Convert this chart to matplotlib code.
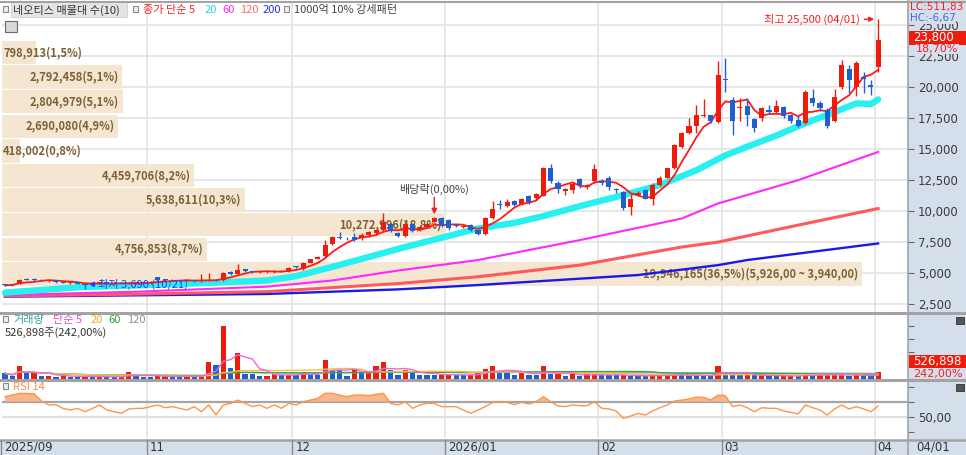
import numpy as np
import pandas as pd
import matplotlib
matplotlib.use("Agg")
import matplotlib.pyplot as plt
from matplotlib.patches import Rectangle
from matplotlib.lines import Line2D
from matplotlib.ticker import FuncFormatter
import matplotlib.transforms as mtrans

plt.rcParams['font.family'] = ['Noto Sans CJK KR', 'DejaVu Sans']
plt.rcParams['axes.unicode_minus'] = False
NUMFONT = ['DejaVu Sans']

# ---------------- data ----------------
opens = [4100, 4000, 4100, 4500, 4480, 4450, 4350, 4400, 4280, 4200,
         4250, 4100, 4000, 4150, 4250, 4150, 4200, 4120, 4180, 4250,
         4200, 4650, 4500, 4400, 4420, 4380, 4420, 4350, 4400, 4450,
         4400, 5050, 4950, 5300, 5100, 5050, 5080, 5080, 5100, 5150,
         5550, 5300, 5850, 6150, 6350, 7350, 7950, 7850, 7900, 7800,
         8050, 8200, 8450, 8950, 8200, 8000, 8950, 8500, 8700, 9150,
         9450, 9300, 8900, 8700, 8900, 8450, 8150, 9450, 10550, 10400,
         10800, 10600, 11200, 11050, 11250, 13500, 12300, 11600, 11700, 12600,
         11950, 12400, 12400, 12700, 11800, 11550, 10350, 11300, 11700, 11000,
         12100, 12700, 13450, 15200, 16300, 16900, 17700, 17750, 17200, 20700,
         19000, 18300, 18450, 17400, 17500, 18200, 18000, 18400, 17750, 17350,
         17100, 19150, 18700, 18200, 17300, 20000, 21450, 20000, 20800, 20150,
         21600]
highs = [4150, 4120, 4500, 4600, 4580, 4500, 4450, 4420, 4300, 4300,
         4280, 4150, 4200, 4300, 4300, 4250, 4250, 4250, 4300, 4300,
         4350, 4700, 4550, 4500, 4450, 4500, 4450, 4900, 5000, 4500,
         5100, 5150, 5700, 5350, 5150, 5150, 5200, 5250, 5250, 5450,
         5600, 5900, 6150, 6400, 7650, 8000, 8300, 7950, 8200, 8250,
         8400, 8550, 9850, 9050, 8300, 9100, 9050, 8900, 9050, 9500,
         9500, 9350, 9000, 8900, 9000, 8500, 9500, 10800, 10900, 11000,
         10900, 11050, 11300, 11500, 13550, 13800, 12400, 11900, 12300, 12700,
         12200, 13800, 12600, 12800, 11900, 11600, 11400, 11600, 11750, 12300,
         12800, 13500, 15400, 16400, 17500, 18550, 19050, 17800, 22150, 22400,
         19200, 19100, 19100, 17500, 18400, 18600, 19000, 18500, 17850, 17800,
         19750, 19900, 18900, 18300, 19900, 22200, 21800, 22100, 21200, 20600,
         25500]
lows = [3950, 3950, 4080, 4400, 4380, 4350, 4300, 4200, 4180, 4150,
        4100, 3690, 3950, 4100, 4100, 4100, 4080, 4100, 4150, 4150,
        4150, 4400, 4350, 4350, 4300, 4350, 4300, 4300, 4350, 4350,
        4350, 4850, 4900, 5100, 5000, 5000, 5000, 5000, 5050, 5100,
        5400, 5250, 5800, 6100, 6300, 7300, 7750, 7700, 7600, 7650,
        7950, 8100, 8400, 8300, 7900, 7950, 8300, 8400, 8600, 9100,
        8700, 8500, 8700, 8650, 8400, 8050, 8100, 9400, 10200, 10350,
        10400, 10500, 10600, 10900, 11200, 12300, 11500, 11300, 11500, 11900,
        11800, 12250, 12100, 11700, 11500, 10100, 9670, 11200, 10950, 10500,
        12000, 12650, 13400, 15100, 16200, 16300, 17600, 17100, 17100, 19600,
        16150, 17300, 16900, 16400, 17300, 17900, 17900, 17500, 17100, 16800,
        17000, 18500, 18100, 16750, 17200, 19900, 19500, 19300, 19550, 19350,
        21200]
closes = [4000, 4080, 4450, 4450, 4450, 4400, 4400, 4250, 4230, 4250,
          4150, 4000, 4150, 4250, 4150, 4180, 4120, 4180, 4250, 4200,
          4300, 4450, 4400, 4420, 4380, 4420, 4350, 4450, 4450, 4400,
          5000, 4950, 5250, 5200, 5080, 5100, 5100, 5120, 5150, 5400,
          5450, 5850, 6100, 6300, 7300, 7950, 7850, 7800, 7700, 8100,
          8300, 8450, 9100, 8400, 8000, 9000, 8400, 8750, 8950, 9450,
          8800, 8650, 8800, 8800, 8450, 8150, 9450, 10200, 10500, 10750,
          10500, 10950, 10700, 11350, 13500, 12400, 11750, 11750, 12200, 12100,
          12100, 13400, 12300, 11950, 11700, 10250, 11000, 11450, 11000, 12100,
          12700, 13450, 15300, 16300, 16900, 17750, 17750, 17250, 21000, 20550,
          17300, 18400, 17800, 16700, 18300, 18000, 18500, 17650, 17250, 16900,
          19600, 18700, 18300, 16850, 19250, 21800, 20550, 22000, 20650, 20050,
          23800]
volumes = [430000, 200000, 980000, 430000, 450000, 250000, 260000, 170000, 250000, 180000,
           170000, 200000, 150000, 180000, 160000, 150000, 180000, 550000, 230000, 180000,
           150000, 200000, 270000, 180000, 160000, 270000, 150000, 160000, 1260000, 1060000,
           4010000, 820000, 1960000, 400000, 350000, 250000, 260000, 380000, 300000, 310000,
           280000, 530000, 320000, 300000, 1400000, 700000, 690000, 250000, 700000, 500000,
           510000, 950000, 1280000, 700000, 330000, 700000, 470000, 330000, 320000, 310000,
           320000, 330000, 300000, 290000, 300000, 430000, 780000, 1000000, 530000, 520000,
           300000, 580000, 300000, 290000, 950000, 350000, 360000, 250000, 350000, 250000,
           350000, 360000, 300000, 290000, 280000, 300000, 220000, 210000, 200000, 300000,
           310000, 320000, 330000, 300000, 290000, 280000, 220000, 210000, 1000000, 530000,
           300000, 290000, 300000, 290000, 300000, 220000, 210000, 220000, 230000, 200000,
           430000, 300000, 310000, 320000, 330000, 340000, 230000, 300000, 220000, 217726,
           526898]
rsi14 = [76.7, 79, 81, 81, 80.5, 71, 65.6, 66, 61, 59,
         61, 56.7, 61, 65.6, 59, 56.7, 54.5, 60.3, 61, 61.2,
         63.4, 65.6, 62, 63.4, 61.2, 58.9, 63.4, 56.7, 65.6, 52.2,
         65.6, 67.8, 72.2, 67.8, 63.4, 65.6, 61.2, 65.6, 61.2, 67.8,
         65.6, 70, 72.2, 74.5, 81.2, 81.2, 78.9, 76.7, 78.9, 78.9,
         78.2, 79.8, 81.2, 67.8, 65.6, 70, 61.2, 65.6, 67.8, 67.8,
         63.4, 63.4, 63.4, 58.9, 54.5, 58.9, 63.4, 69, 69.2, 69.2,
         66, 69.2, 67, 70, 76.7, 70, 64.3, 63.4, 65.6, 64.7,
         64.7, 70, 61.2, 60.3, 57.6, 47.9, 50.9, 54.5, 52.2, 57.6,
         62, 65.6, 70.9, 72.2, 73.6, 76.2, 75.8, 72.2, 78.9, 78,
         63.4, 65.6, 62, 56.7, 62, 61.2, 61.2, 57.6, 55.8, 53.6,
         65.6, 62, 58.9, 52.2, 60.3, 65.6, 60.3, 63.4, 60.3, 56.7,
         64.3]

# moving averages (day index -> value)
ma20_at = [0, 10, 18, 28, 36, 40, 45, 50, 55, 60, 65, 70, 74, 79, 85, 90, 95, 99, 102, 106, 110, 114, 117, 119, 120]
ma20_vals = [3420, 3850, 4000, 4200, 4400, 4750, 5500, 6300, 7100, 7850, 8600, 9050, 9600, 10400, 11300,
             12100, 13300, 14500, 15200, 16100, 17100, 18000, 18700, 18650, 19020]
ma60_at = [0, 18, 36, 45, 54, 65, 79, 93, 98, 109, 120]
ma60_vals = [3230, 3490, 3900, 4400, 5200, 6050, 7660, 9400, 10620, 12500, 14780]
ma120_at = [0, 18, 36, 54, 65, 79, 93, 98, 109, 120]
ma120_vals = [3150, 3300, 3500, 4150, 4700, 5640, 7100, 7500, 8870, 10210]
ma200_at = [0, 36, 54, 65, 87, 98, 102, 120]
ma200_vals = [3090, 3310, 3680, 4030, 4840, 5640, 6050, 7390]

# volume profile (매물대), bins from bottom to top
profile_volumes = [19946165, 4756853, 10272996, 5638611, 4459706, 418002, 2690080, 2804979, 2792458, 798913]
profile_low = 3940
profile_step = 1986

month_labels = ["2025/09", "11", "12", "2026/01", "02", "03", "04"]
month_starts = [0, 20, 40, 61, 82, 99, 120]
price_ticks = [2500, 5000, 7500, 10000, 12500, 15000, 17500, 20000, 22500, 25000]
ex_div_index = 59
high_date = "04/01"
low_date = "10/21"
last_date = "04/01"

# ---------------- style ----------------
RED = '#ee1c0c'
BLUE = '#1f5fd2'
BEIGE = '#f5e6d2'
PANEL = '#d5dfec'
GRID = '#e3e3e3'
SEP = '#a3a3a3'

W, H = 966, 455
fig = plt.figure(figsize=(W / 100, H / 100), dpi=100)
fig.patch.set_facecolor('white')


def fx(x):
    return x / W


def fy(y):
    return 1 - y / H


PL, PR = 2, 908


def add_ax(top, bottom):
    ax = fig.add_axes([fx(PL), fy(bottom), (PR - PL) / W, (bottom - top) / H])
    for s in ax.spines.values():
        s.set_visible(False)
    ax.set_facecolor('white')
    return ax


# background panels
fig.add_artist(Rectangle((fx(PR), 0), 1 - fx(PR), 1, transform=fig.transFigure,
                         facecolor=PANEL, edgecolor='none', zorder=-2))
fig.add_artist(Rectangle((0, 0), 1, 15 / H, transform=fig.transFigure,
                         facecolor=PANEL, edgecolor='none', zorder=-2))

ax_p = add_ax(3, 312)
ax_v = add_ax(314, 379)
ax_r = add_ax(381, 438)

n = len(closes)
idx = np.arange(n)
o = np.array(opens, float)
h = np.array(highs, float)
l = np.array(lows, float)
c = np.array(closes, float)
XL = (-0.41, 124.1)
for ax in (ax_p, ax_v, ax_r):
    ax.set_xlim(*XL)
    ax.set_xticks([])
    ax.tick_params(axis='x', length=0)

ax_p.set_ylim(1854, 26807)
ax_v.set_ylim(0, 4.89e6)
ax_r.set_ylim(21.6, 97.6)

# grid
for p in price_ticks:
    ax_p.axhline(p, color=GRID, lw=1.2, zorder=0)
for ms in month_starts[1:]:
    for ax in (ax_p, ax_v, ax_r):
        ax.axvline(ms - 0.5, color=GRID, lw=1.2, zorder=0)

# price ticks on right
ax_p.set_yticks(price_ticks)
ax_p.yaxis.set_major_formatter(FuncFormatter(lambda v, pos: f"{int(v):,}"))
ax_p.tick_params(axis='y', left=False, labelleft=False, right=True, labelright=True,
                 length=4, width=0.8, color='#666666', pad=3, labelsize=8.5, labelcolor='#3a3a3a')
for t in ax_p.get_yticklabels():
    t.set_family(NUMFONT)
ax_v.set_yticks([0, 1e6, 2e6, 3e6, 4e6])
ax_v.tick_params(axis='y', left=False, labelleft=False, right=True, labelright=False,
                 length=4, width=0.8, color='#666666')
ax_r.set_yticks([30, 50, 70, 90])
ax_r.yaxis.set_major_formatter(FuncFormatter(lambda v, pos: "50,00" if abs(v - 50) < 1e-6 else ""))
ax_r.tick_params(axis='y', left=False, labelleft=False, right=True, labelright=True,
                 length=4, width=0.8, color='#666666', pad=3, labelsize=8.5, labelcolor='#3a3a3a')
for t in ax_r.get_yticklabels():
    t.set_family(NUMFONT)

# volume profile bars
vmax = max(profile_volumes)
vtot = sum(profile_volumes)
full_w = 118.2  # index units for the largest bin
px_per_idx = (PR - PL) / (XL[1] - XL[0])
for k, v in enumerate(profile_volumes):
    lo = profile_low + k * profile_step
    w = v / vmax * full_w
    yc = lo + profile_step / 2
    ax_p.barh(yc, w, height=profile_step * 0.95, left=XL[0], color=BEIGE, lw=0, zorder=1)
    lab = f"{v:,}({v / vtot * 100:.1f}%)".replace('.', ',')
    if k == 0:
        lab += f"({lo + profile_step:,},00 ~ {lo:,},00)"
    if w * px_per_idx > 60:
        ax_p.text(XL[0] + w - 0.5, yc, lab, ha='right', va='center', fontsize=8,
                  fontweight='bold', color='#7b6234', zorder=1.5)
    else:
        ax_p.text(XL[0] + 0.15, yc, lab, ha='left', va='center', fontsize=8,
                  fontweight='bold', color='#7b6234', zorder=1.5)

# moving averages
ma5 = pd.Series(c).rolling(5, min_periods=1).mean()
ax_p.plot(ma200_at, ma200_vals, color='#1a1ae6', lw=1.7, zorder=2.4)
ax_p.plot(ma120_at, ma120_vals, color='#ff5a5a', lw=2.2, zorder=2.5)
ax_p.plot(ma60_at, ma60_vals, color='#ff28ff', lw=1.5, zorder=2.6)
ax_p.plot(ma20_at, ma20_vals, color='#26f0f0', lw=4.6, zorder=3, solid_capstyle='round')
ax_p.plot(idx, ma5, color='#ff1a1a', lw=1.3, zorder=3.5)

# candles
up = c >= o
ccol = np.where(up, RED, BLUE)
ax_p.vlines(idx, l, h, colors=ccol, lw=1.0, zorder=4)
body_b = np.minimum(o, c)
body_h = np.maximum(np.abs(c - o), 70)
ax_p.bar(idx, body_h, bottom=body_b, width=0.7, color=ccol, lw=0, zorder=5)

# annotations
hi_i = int(np.argmax(h))
lo_i = int(np.argmin(l))
ax_p.annotate(f"최고 {int(h[hi_i]):,} ({high_date})", xy=(hi_i, h[hi_i]),
              xycoords=mtrans.offset_copy(ax_p.transData, fig=fig, x=-4, y=0, units='dots'),
              xytext=(-14, 0), textcoords='offset pixels', ha='right', va='center',
              fontsize=8, color='#f02020', zorder=7,
              arrowprops=dict(arrowstyle='-|>', color='#f02020', lw=1, shrinkA=1, shrinkB=0,
                              mutation_scale=7))
ax_p.annotate(f"최저 {int(l[lo_i]):,} ({low_date})", xy=(lo_i, l[lo_i]),
              xycoords=mtrans.offset_copy(ax_p.transData, fig=fig, x=4, y=5, units='dots'),
              xytext=(9, 0), textcoords='offset pixels', ha='left', va='center',
              fontsize=8, color='#2a3cff', zorder=7,
              arrowprops=dict(arrowstyle='-|>', color='#2a3cff', lw=1, shrinkA=1, shrinkB=0,
                              mutation_scale=7))
ax_p.annotate('', xy=(ex_div_index, h[ex_div_index]),
              xycoords=mtrans.offset_copy(ax_p.transData, fig=fig, x=0, y=3, units='dots'),
              xytext=(0, 17), textcoords='offset pixels',
              arrowprops=dict(arrowstyle='-|>', color='#f02020', lw=1, shrinkA=0, shrinkB=0,
                              mutation_scale=8), zorder=7)
ax_p.annotate('배당락(0,00%)', xy=(ex_div_index, h[ex_div_index]), xytext=(0, 28),
              textcoords='offset pixels', ha='center', va='center', fontsize=8,
              color='#444444', zorder=7)

# volume
vol = np.array(volumes, float)
vcol = [BLUE] + [RED if vol[i] >= vol[i - 1] else BLUE for i in range(1, n)]
ax_v.bar(idx, vol, width=0.72, color=vcol, lw=0, zorder=2)
for win, col in ((120, '#a8a8a8'), (60, '#35a845'), (20, '#f5c040'), (5, '#ee66dd')):
    ax_v.plot(idx, pd.Series(vol).rolling(win, min_periods=1).mean(), color=col, lw=1.0, zorder=3)

# RSI
r = np.array(rsi14, float)
ax_r.axhline(70, color='#a5a5a5', lw=1.6, zorder=1)
ax_r.axhline(50, color='#dedede', lw=1.6, zorder=1)
ax_r.fill_between(idx, r, 70, where=r >= 70, interpolate=True, color='#f7b68c', lw=0, zorder=2)
ax_r.plot(idx, r, color='#ff9446', lw=1.0, zorder=3)


# ---------------- figure texts ----------------
def ftext(x, y, s, color='#333333', size=8, **kw):
    return fig.text(fx(x), fy(y), s, color=color, fontsize=size, ha=kw.pop('ha', 'left'),
                    va=kw.pop('va', 'center'), **kw)


def sq(x, y):
    fig.add_artist(Rectangle((fx(x), fy(y + 3)), 5 / W, 6 / H, transform=fig.transFigure,
                             facecolor='#eeeeee', edgecolor='#8a8a8a', lw=0.8, zorder=6))


# title row
sq(3, 9)
fig.add_artist(Rectangle((fx(11), fy(17)), 116 / W, 15 / H, transform=fig.transFigure,
                         facecolor='#e4e4e4', edgecolor='#cfcfcf', lw=0.6, zorder=5))
ftext(13, 10, "네오티스 매물대 수(10)", '#333333', zorder=6)
sq(133, 9)
ftext(143, 10, "종가 단순 5", '#ff2020', zorder=6)
ftext(205, 10, "20", '#22dede', zorder=6)
ftext(222, 10, "60", '#ff28ff', zorder=6)
ftext(240, 10, "120", '#ff6a6a', zorder=6)
ftext(263, 10, "200", '#2a2aff', zorder=6)
sq(284, 9)
ftext(294, 10, "1000억 10% 강세패턴", '#444444', zorder=6)
fig.add_artist(Rectangle((fx(5), fy(32)), 12 / W, 11 / H, transform=fig.transFigure,
                         facecolor='#d8d8d8', edgecolor='#6a6a6a', lw=0.8, zorder=6))

# volume title
sq(3, 319)
ftext(13, 320, "거래량", '#3aa0a0', zorder=6)
ftext(53, 320, "단순 5", '#e050d8', zorder=6)
ftext(91, 320, "20", '#f0b020', zorder=6)
ftext(108, 320, "60", '#30a040', zorder=6)
ftext(127, 320, "120", '#909090', zorder=6)
ftext(5, 333, f"{int(vol[-1]):,}주({vol[-1] / vol[-2] * 100:.2f}%)".replace('.', ','), '#333333', zorder=6)

# RSI title
sq(3, 386)
ftext(13, 387, "RSI 14", '#ff8c40', zorder=6)

# right panel labels
ftext(910, 7, "LC:511,83", '#f02020', 7.5, zorder=7, family=NUMFONT)
ftext(910, 18, "HC:-6,67", '#3a6ee8', 7.5, zorder=7, family=NUMFONT,
      bbox=dict(facecolor=PANEL, edgecolor='none', pad=0.5))
fig.add_artist(Rectangle((fx(909), fy(45)), (W - 909) / W, 14 / H, transform=fig.transFigure,
                         facecolor='#ee1c0c', edgecolor='none', zorder=7))
ftext(913, 38, f"{int(c[-1]):,}", 'white', 8.5, zorder=8, family=NUMFONT)
ftext(916, 49, f"{(c[-1] / c[-2] - 1) * 100:.2f}%".replace('.', ','), '#f02020', 8, zorder=7,
      family=NUMFONT, bbox=dict(facecolor=PANEL, edgecolor='none', pad=0.3))
fig.add_artist(Rectangle((fx(909), fy(368)), (W - 909) / W, 13 / H, transform=fig.transFigure,
                         facecolor='#ee1c0c', edgecolor='none', zorder=7))
ftext(913, 361.5, f"{int(vol[-1]):,}", 'white', 8.5, zorder=8, family=NUMFONT)
ftext(913, 374, f"{vol[-1] / vol[-2] * 100:.2f}%".replace('.', ','), '#f02020', 8, zorder=7,
      family=NUMFONT)
for yy in (318, 385):
    fig.add_artist(Rectangle((fx(956), fy(yy + 6)), 8 / W, 7 / H, transform=fig.transFigure,
                             facecolor='#555555', edgecolor='#333333', lw=0.6, zorder=7))

# separators
for yy, lw in ((1.5, 1.5), (313, 2.2), (380, 2.2), (439.5, 1.8)):
    fig.add_artist(Line2D([0, 1], [fy(yy), fy(yy)], transform=fig.transFigure, color=SEP, lw=lw, zorder=6))
fig.add_artist(Line2D([fx(PR), fx(PR)], [0, 1], transform=fig.transFigure, color=SEP, lw=1.2, zorder=6))

# date strip
trans_d = mtrans.blended_transform_factory(ax_r.transData, fig.transFigure)
trans_dt = mtrans.offset_copy(trans_d, fig=fig, x=3, y=0, units='dots')
for lab, ms in zip(month_labels, month_starts):
    xm = ms - 0.5
    fig.add_artist(Line2D([xm, xm], [fy(440), fy(455)], transform=trans_d, color='#8a8a8a', lw=1.0, zorder=6))
    fig.text(xm, fy(447.5), lab, transform=trans_dt, fontsize=8.5, color='#333333',
             ha='left', va='center', zorder=6, family=NUMFONT)
ftext(916, 447.5, last_date, '#333333', 8.5, zorder=6, family=NUMFONT)

fig.savefig("out.png", dpi=100)
